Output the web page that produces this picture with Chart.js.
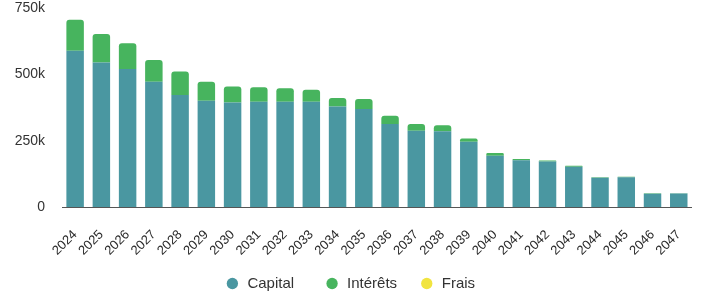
<!DOCTYPE html>
<html>
<head>
<meta charset="utf-8">
<script src="https://cdn.jsdelivr.net/npm/chart.js@4/dist/chart.umd.min.js"></script>
<style>
    html, body { margin: 0; padding: 0; background: #fff; }
    #wrap { width: 710px; height: 302px; position: relative; }
</style>
</head>
<body>
<div id="wrap"><canvas id="chart"></canvas></div>
<script>
const years = ['2024', '2025', '2026', '2027', '2028', '2029', '2030', '2031', '2032', '2033', '2034', '2035',
    '2036', '2037', '2038', '2039', '2040', '2041', '2042', '2043', '2044', '2045', '2046', '2047'];
const capital = [590000, 546000, 521000, 473000, 423000, 401000, 395000, 397000, 397000, 397000, 380000, 370000,
    313000, 288000, 286000, 246000, 194000, 177000, 172000, 152000, 110000, 112000, 50000, 51000];
const interets = [117000, 107000, 97000, 82000, 89000, 72000, 60000, 55000, 51000, 46000, 32000, 38000,
    32000, 25000, 23000, 13000, 10000, 4000, 4000, 4000, 2000, 2000, 2000, 1000];
const frais = [0, 0, 0, 0, 0, 0, 0, 0, 0, 0, 0, 0, 0, 0, 0, 0, 0, 0, 0, 0, 0, 0, 0, 0];
const yTicks = [0, 250000, 500000, 750000];

const font = 'Liberation Sans, Arial, sans-serif';

const ctx = document.getElementById('chart').getContext('2d');
new Chart(ctx, {
    type: 'bar',
    data: {
        labels: years,
        datasets: [
            { label: 'Capital', data: capital, backgroundColor: '#4a97a1', borderRadius: 3 },
            { label: 'Intérêts', data: interets, backgroundColor: '#47b45e', borderRadius: 3 },
            { label: 'Frais', data: frais, backgroundColor: '#f1e43f', borderRadius: 3 }
        ]
    },
    options: {
        responsive: true,
        maintainAspectRatio: false,
        animation: false,
        layout: { padding: { left: 0, right: 10, top: 1, bottom: 1 } },
        datasets: { bar: { barPercentage: 0.74, categoryPercentage: 0.9 } },
        plugins: {
            tooltip: { enabled: false },
            legend: {
                position: 'bottom',
                labels: {
                    usePointStyle: true,
                    pointStyle: 'circle',
                    boxWidth: 15,
                    boxHeight: 8,
                    padding: 18,
                    color: '#333',
                    font: { family: font, size: 15 },
                    // a bit more room between items without a taller legend
                    generateLabels: chart => {
                        const items = Chart.defaults.plugins.legend.labels.generateLabels(chart);
                        const pad = ['   ', ' ', ''];
                        items.forEach((it, i) => { it.text += pad[i] || ''; });
                        return items;
                    }
                }
            }
        },
        scales: {
            x: {
                stacked: true,
                grid: { display: false, drawTicks: false },
                border: { display: true, color: '#555', width: 1 },
                afterFit: scale => { scale.height = 51; },
                ticks: {
                    color: '#2a2a2a',
                    maxRotation: 45,
                    minRotation: 45,
                    padding: 20,
                    font: { family: font, size: 13 }
                }
            },
            y: {
                stacked: true,
                min: 0,
                max: 750000,
                grid: { display: false, tickLength: 17 },
                border: { display: false },
                afterFit: scale => { scale.width = 62; },
                afterBuildTicks: scale => { scale.ticks = yTicks.map(v => ({ value: v })); },
                ticks: {
                    color: '#333',
                    padding: 0,
                    font: { family: font, size: 14 },
                    callback: v => v === 0 ? '0' : (v / 1000) + 'k'
                }
            }
        }
    }
});
</script>
</body>
</html>
